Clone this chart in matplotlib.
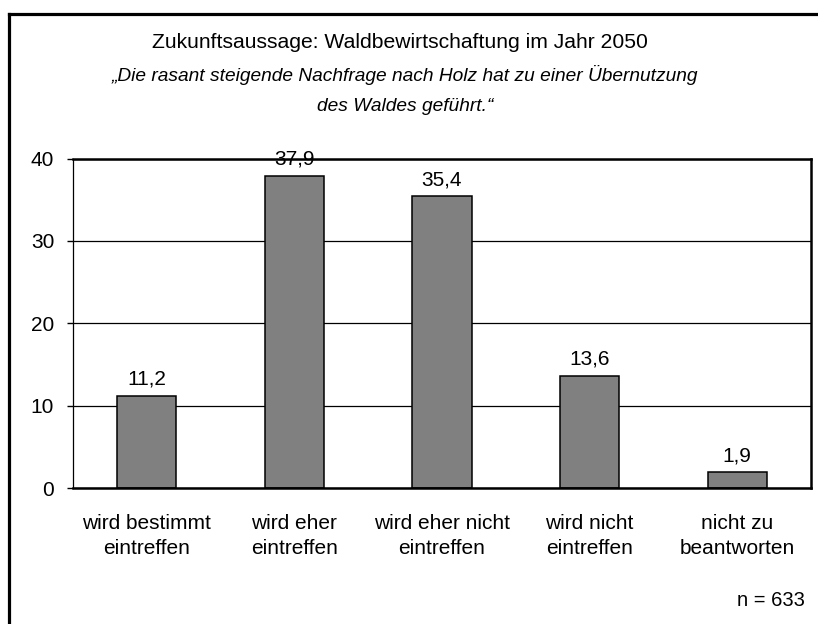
import matplotlib
matplotlib.use("Agg")
import matplotlib.pyplot as plt
from matplotlib.lines import Line2D

plt.rcParams['font.family'] = ['Liberation Sans', 'DejaVu Sans']

# Data
categories = ["wird bestimmt\neintreffen", "wird eher\neintreffen",
              "wird eher nicht\neintreffen", "wird nicht\neintreffen",
              "nicht zu\nbeantworten"]
values = [11.2, 37.9, 35.4, 13.6, 1.9]
value_labels = ["11,2", "37,9", "35,4", "13,6", "1,9"]
yticks = [0, 10, 20, 30, 40]

title = "Zukunftsaussage: Waldbewirtschaftung im Jahr 2050"
subtitle = "\u201eDie rasant steigende Nachfrage nach Holz hat zu einer \u00dcbernutzung\ndes Waldes gef\u00fchrt.\u201c"
note = "n = 633"

W, H = 818, 624
fig = plt.figure(figsize=(W / 100, H / 100), dpi=100)
ax = fig.add_axes([73 / W, 1 - 488 / H, (811 - 73) / W, (488 - 158.5) / H])

x = range(len(values))
ax.bar(x, values, width=0.4, color='#808080', edgecolor='black', linewidth=1.1, zorder=2)

for xi, v, lab in zip(x, values, value_labels):
    ax.annotate(lab, (xi, v), xytext=(0, 8), textcoords='offset points',
                ha='center', va='baseline', fontsize=15, zorder=1)

ax.set_xlim(-0.5, len(values) - 0.5)
ax.set_ylim(0, 40)
ax.set_yticks(yticks)
ax.set_xticks(list(x))
ax.set_xticklabels(categories, fontsize=15, linespacing=1.35)
ax.tick_params(axis='x', length=0, pad=19)
ax.tick_params(axis='y', length=4.5, width=1, labelsize=15, pad=9, direction='out')
ax.yaxis.grid(True, color='black', linewidth=0.9)
ax.set_axisbelow(True)

for side in ['top', 'right', 'bottom']:
    ax.spines[side].set_linewidth(1.8)
    ax.spines[side].set_zorder(4)
ax.spines['left'].set_linewidth(0.9)

fig.text(400 / W, 1 - 43 / H, title, ha='center', va='center', fontsize=15.2)
fig.text(405 / W, 1 - 90 / H, subtitle, ha='center', va='center', fontsize=13.8,
         style='italic', linespacing=1.95)
fig.text(805 / W, 1 - 600 / H, note, ha='right', va='center', fontsize=14.5)

# frame of the original figure (only top and left edges visible)
fx = 8.5 / W
fy = 1 - 13.7 / H
fig.add_artist(Line2D([fx, fx], [0, fy], color='black', linewidth=2.3, transform=fig.transFigure))
fig.add_artist(Line2D([fx, 1], [fy, fy], color='black', linewidth=2.3, transform=fig.transFigure))

fig.savefig("out.png", dpi=100)
